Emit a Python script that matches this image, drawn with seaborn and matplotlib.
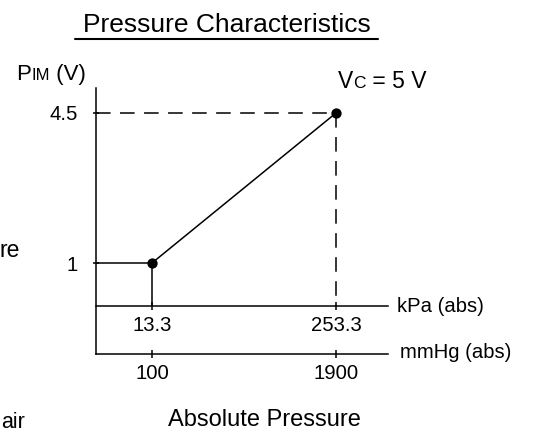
import matplotlib
matplotlib.use("Agg")
import matplotlib.pyplot as plt
from matplotlib.lines import Line2D
import seaborn as sns

sns.set_style("white")
plt.rcParams["font.family"] = ["Liberation Sans", "DejaVu Sans"]

# Sensor output characteristic
kpa = [13.3, 253.3]          # absolute pressure, kPa
mmhg = [100, 1900]           # same points, mmHg
volts = [1.0, 4.5]           # output voltage PIM (V)
kpa_labels = ["13.3", "253.3"]
mmhg_labels = ["100", "1900"]
volt_labels = ["1", "4.5"]
MMHG_TO_KPA = 0.133322

W, H = 534, 432
fig = plt.figure(figsize=(W / 100, H / 100), dpi=100)


def fx(px):
    return px / W


def fy(py):
    return 1 - py / H


ax = fig.add_axes([fx(96), fy(354), fx(388) - fx(96), fy(88) - fy(354)])
xmin, xmax = -59.7, 321.1
ymin, ymax = -1.123, 5.083
ax.set_xlim(xmin, xmax)
ax.set_ylim(ymin, ymax)
ax.patch.set_alpha(0)

for side in ("top", "right"):
    ax.spines[side].set_visible(False)
for side in ("left", "bottom"):
    ax.spines[side].set_color("black")
    ax.spines[side].set_linewidth(1.1)

TICK_FS = 14.6

# y ticks
ax.set_yticks(volts)
ax.set_yticklabels(volt_labels)
ax.tick_params(axis="y", direction="inout", length=5, width=1.1,
               pad=10.5, labelsize=TICK_FS, colors="black", left=True)

# mmHg scale on the bottom spine
ax.set_xticks([m * MMHG_TO_KPA for m in mmhg])
ax.set_xticklabels(mmhg_labels)
ax.tick_params(axis="x", direction="inout", length=6, width=1.1,
               pad=4.5, labelsize=TICK_FS, colors="black", bottom=True)

# kPa scale at zero volts
loc = (0 - ymin) / (ymax - ymin)
sec = ax.secondary_xaxis(loc)
sec.set_xticks(kpa)
sec.set_xticklabels(kpa_labels)
sec.tick_params(axis="x", direction="inout", length=6, width=1.1,
                pad=4.5, labelsize=TICK_FS, colors="black")
sec.spines["bottom"].set_linewidth(1.1)
sec.spines["bottom"].set_color("black")

lw = 1.1
dash = (0, (10.5 / lw, 6.8 / lw))

# characteristic line and end points
ax.plot([xmin, kpa[0]], [volts[0], volts[0]], color="black", lw=lw,
        solid_capstyle="butt")
ax.plot([kpa[0], kpa[0]], [volts[0], 0], color="black", lw=lw,
        solid_capstyle="butt")
sns.lineplot(x=kpa, y=volts, ax=ax, color="black", lw=lw)
ax.plot([xmin, kpa[1]], [volts[1], volts[1]], color="black", lw=lw,
        linestyle=dash, dash_capstyle="butt")
ax.plot([kpa[1], kpa[1]], [volts[1], 0], color="black", lw=lw,
        linestyle=dash, dash_capstyle="butt")
sns.scatterplot(x=kpa, y=volts, ax=ax, color="black", s=55,
                edgecolor="black", linewidth=0, zorder=5)
ax.set_xlabel("")
ax.set_ylabel("")

# title with underline
fig.text(fx(227), fy(32), "Pressure Characteristics", ha="center",
         va="baseline", fontsize=19, color="black")
fig.add_artist(Line2D([fx(75), fx(378)], [fy(39), fy(39)], color="black",
                      lw=1.5, transform=fig.transFigure))

renderer = fig.canvas.get_renderer()


def chain(x, y, parts):
    """Write text pieces of mixed size side by side on one baseline."""
    cur = x
    for s, size in parts:
        t = fig.text(fx(cur), fy(y), s, fontsize=size, ha="left",
                     va="baseline", color="black")
        ext = t.get_window_extent(renderer=renderer)
        cur += ext.width


chain(16.5, 80, [("P", 16), ("IM", 12), (" (V)", 16)])
chain(338, 88.5, [("V", 16.5), ("C", 12.5), (" = 5 V", 16.5)])

fig.text(fx(397), fy(307), "kPa (abs)", ha="left", va="center",
         fontsize=TICK_FS, color="black")
fig.text(fx(400), fy(352), "mmHg (abs)", ha="left", va="center",
         fontsize=TICK_FS, color="black")
fig.text(fx(264), fy(426), "Absolute Pressure", ha="center",
         va="baseline", fontsize=17, color="black")

fig.text(fx(20), fy(257), "re", ha="right", va="baseline", fontsize=16.5,
         color="black")
fig.text(fx(25), fy(428), "air", ha="right", va="baseline", fontsize=15.5,
         color="black")

fig.savefig("out.png", dpi=100)
